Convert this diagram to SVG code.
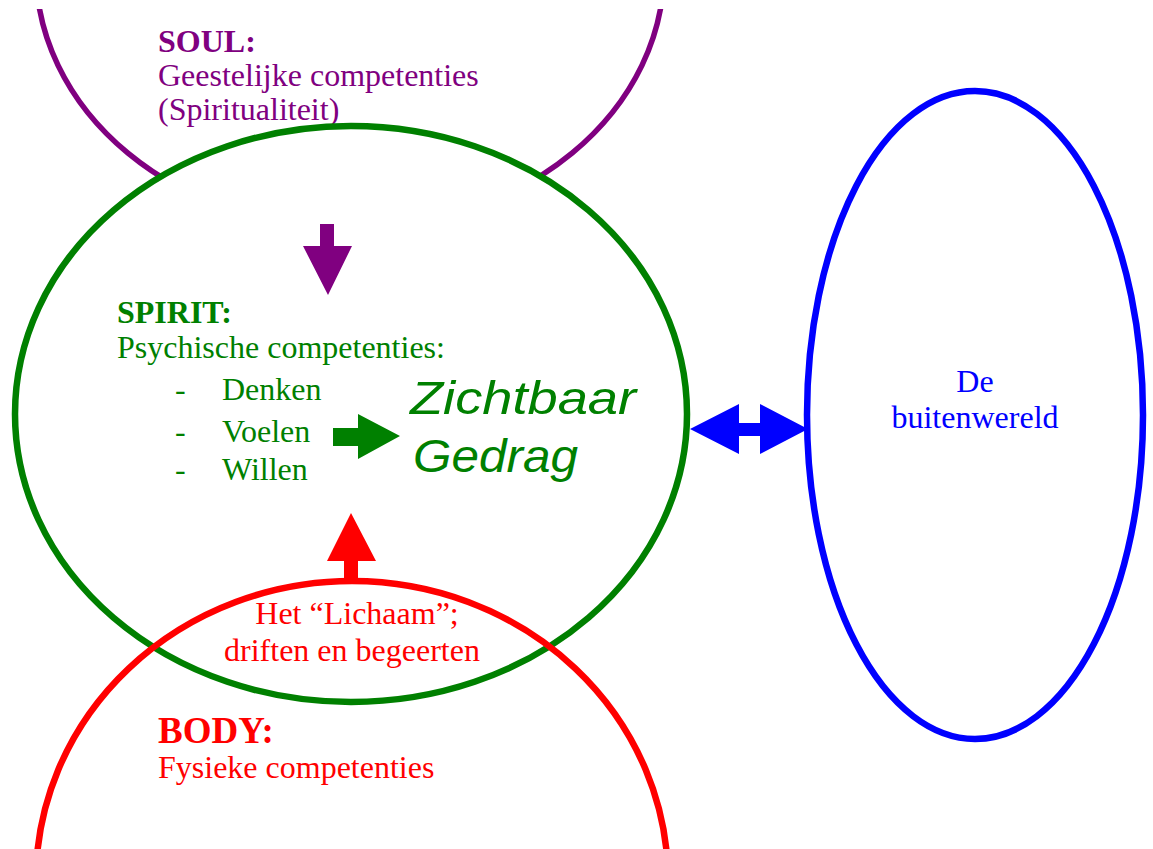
<svg xmlns="http://www.w3.org/2000/svg" width="1153" height="849" viewBox="0 0 1153 849">
<defs>
<clipPath id="top"><rect x="0" y="9" width="1153" height="840"/></clipPath>
</defs>
<style>
.t{font-family:"Liberation Serif","Times New Roman",serif;font-size:32px}
.b{font-weight:bold}
.z{font-family:"Liberation Sans",Arial,sans-serif;font-style:italic;font-size:46px;fill:#008000}
.p{fill:#800080}.g{fill:#008000}.r{fill:#FF0000}.bl{fill:#0000FF}
</style>
<rect width="1153" height="849" fill="#fff"/>
<g id="soul">
<ellipse cx="350" cy="-30" rx="314" ry="259" fill="none" stroke="#800080" stroke-width="5.5" clip-path="url(#top)"/>
<text class="t b p" x="158" y="52">SOUL:</text>
<text class="t p" x="158" y="86">Geestelijke competenties</text>
<text class="t p" x="158" y="120">(Spiritualiteit)</text>
</g>
<g id="spirit">
<ellipse cx="351" cy="414" rx="336" ry="288" fill="#fff" stroke="#008000" stroke-width="6.5"/>
<text class="t b g" x="117" y="323">SPIRIT:</text>
<text class="t g" x="117" y="358">Psychische competenties:</text>
<text class="t g" x="175" y="400">-</text>
<text class="t g" x="222" y="400">Denken</text>
<text class="t g" x="175" y="442">-</text>
<text class="t g" x="222" y="442">Voelen</text>
<text class="t g" x="175" y="480">-</text>
<text class="t g" x="222" y="480">Willen</text>
<text class="z" x="410" y="414" textLength="226" lengthAdjust="spacingAndGlyphs">Zichtbaar</text>
<text class="z" x="413" y="472" textLength="165" lengthAdjust="spacingAndGlyphs">Gedrag</text>
</g>
<g id="body">
<ellipse cx="352" cy="880" rx="316" ry="299" fill="none" stroke="#FF0000" stroke-width="6.5"/>
<text class="t r" x="357" y="624" text-anchor="middle">Het “Lichaam”;</text>
<text class="t r" x="352" y="661" text-anchor="middle">driften en begeerten</text>
<text class="t b r" x="158" y="743" style="font-size:37px">BODY:</text>
<text class="t r" x="158" y="778">Fysieke competenties</text>
</g>
<g id="world">
<ellipse cx="975" cy="415" rx="168" ry="324" fill="none" stroke="#0000FF" stroke-width="6.5"/>
<text class="t bl" x="975" y="392" text-anchor="middle">De</text>
<text class="t bl" x="975" y="428" text-anchor="middle">buitenwereld</text>
</g>
<g id="connectors">
<polygon class="p" points="320,224 334,224 334,246 352,246 328,295 303,246 320,246"/>
<polygon class="g" points="333,428 358,428 358,414 400,436 358,459 358,446 333,446"/>
<polygon class="r" points="344,582 358,582 358,561 376,561 351,513 327,561 344,561"/>
<polygon class="bl" points="690,429 739,404 739,423 760,423 760,404 808,429 760,454 760,436 739,436 739,454"/>
</g>
</svg>
